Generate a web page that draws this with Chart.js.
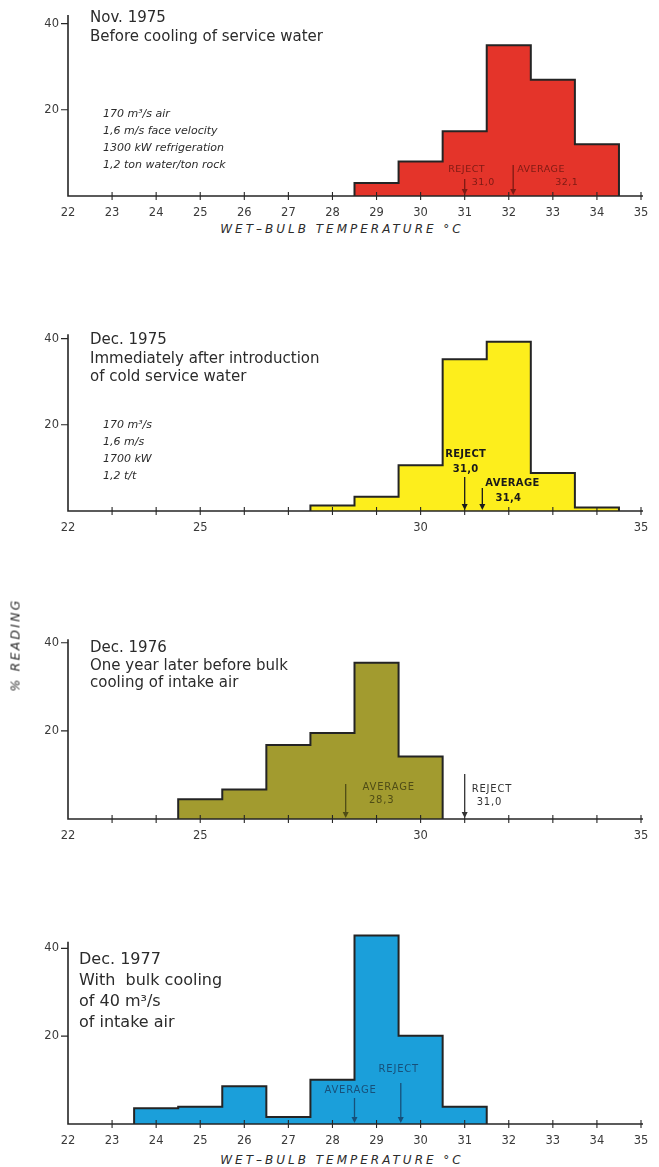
<!DOCTYPE html>
<html>
<head>
<meta charset="utf-8">
<script src="https://cdn.jsdelivr.net/npm/chart.js@4.4.1/dist/chart.umd.min.js"></script>
<style>
  html, body { margin: 0; padding: 0; background: #fff; }
  #page { position: relative; width: 659px; height: 1167px; overflow: hidden;
          font-family: 'DejaVu Sans', sans-serif; color: #2b2b2b; }
  canvas { position: absolute; left: 0; }
  .title { position: absolute; font-size: 15px; white-space: nowrap; }
  .notes { position: absolute; font-size: 11px; font-style: italic; line-height: 17px; white-space: nowrap; }
  .xtitle { position: absolute; left: 342px; font-size: 12px; font-style: italic; letter-spacing: 3px;
            line-height: 14px; white-space: nowrap; transform: translateX(-50%); }
  .ytitle { position: absolute; left: 15px; top: 645px; font-size: 12.5px; font-style: italic; letter-spacing: 2.2px;
            white-space: nowrap; transform: translate(-50%, -50%) rotate(-90deg); }
</style>
</head>
<body>
<div id="page">
  <canvas id="c1" width="659" height="220" style="top:0px"></canvas>
  <canvas id="c2" width="659" height="235" style="top:300px"></canvas>
  <canvas id="c3" width="659" height="243" style="top:600px"></canvas>
  <canvas id="c4" width="659" height="248" style="top:900px"></canvas>

  <div class="title" style="left:90px; top:8px; line-height:19px">Nov. 1975<br>Before cooling of service water</div>
  <div class="notes" style="left:103px; top:104.5px">170 m³/s air<br>1,6 m/s face velocity<br>1300 kW refrigeration<br>1,2 ton water/ton rock</div>
  <div class="xtitle" style="top:222px">WET–BULB TEMPERATURE °C</div>

  <div class="title" style="left:90px; top:330px; line-height:18.5px">Dec. 1975<br>Immediately after introduction<br>of cold service water</div>
  <div class="notes" style="left:103px; top:415.5px">170 m³/s<br>1,6 m/s<br>1700 kW<br>1,2 t/t</div>

  <div class="ytitle">% READING</div>
  <div class="title" style="left:90px; top:639px; line-height:17.5px">Dec. 1976<br>One year later before bulk<br>cooling of intake air</div>

  <div class="title" style="left:79px; top:948px; line-height:21px; font-size:16px">Dec. 1977<br>With&nbsp; bulk cooling<br>of 40 m³/s<br>of intake air</div>
  <div class="xtitle" style="top:1153px">WET–BULB TEMPERATURE °C</div>
</div>

<script>
// wet-bulb temperature axis
const xMin = 22, xMax = 35;
const xTickMarks = [23, 24, 25, 26, 27, 28, 29, 30, 31, 32, 33, 34, 35];
const allTickLabels = [22, 23, 24, 25, 26, 27, 28, 29, 30, 31, 32, 33, 34, 35];
const sparseTickLabels = [22, 25, 30, 35];
const yTickValues = [20, 40];

// % readings per 1 degree bin (bin centre in degC)
const nov1975Bins = [29, 30, 31, 32, 33, 34];
const nov1975Pct = [3, 8, 15, 35, 27, 12];
const dec1975Bins = [28, 29, 30, 31, 32, 33, 34];
const dec1975Pct = [1.3, 3.3, 10.6, 35.2, 39.3, 8.8, 0.8];
const dec1976Bins = [25, 26, 27, 28, 29, 30];
const dec1976Pct = [4.5, 6.7, 16.8, 19.5, 35.5, 14.2];
const dec1977Bins = [24, 25, 26, 27, 28, 29, 30, 31];
const dec1977Pct = [3.6, 3.9, 8.6, 1.6, 10.1, 42.9, 20.1, 3.9];

// average and reject temperatures
const averageTemps = [32.1, 31.4, 28.3, 28.5];
const rejectTemps = [31.0, 31.0, 31.0, 29.55];
const averageLabels = ['32,1', '31,4', '28,3', ''];
const rejectLabels = ['31,0', '31,0', '31,0', ''];

Chart.defaults.font.family = "'DejaVu Sans', sans-serif";
Chart.defaults.color = '#333';

// histogram outline points: left edge of every bin, closed at both ends
function stepPoints(bins, pct) {
  const pts = [{x: bins[0] - 0.5, y: 0}];
  bins.forEach((b, i) => pts.push({x: b - 0.5, y: pct[i]}));
  pts.push({x: bins[bins.length - 1] + 0.5, y: 0});
  return pts;
}

const axesAndMarks = {
  id: 'axesAndMarks',
  afterDatasetsDraw(chart, args, opts) {
    const {ctx, chartArea: a} = chart;
    const x = chart.scales.x, y = chart.scales.y;
    const base = y.getPixelForValue(0);
    ctx.save();
    ctx.strokeStyle = '#262626';
    ctx.lineWidth = 1.6;
    ctx.beginPath();
    ctx.moveTo(a.left, base); ctx.lineTo(a.right + 2, base);
    ctx.moveTo(a.left, base + 0.8); ctx.lineTo(a.left, y.getPixelForValue(opts.axisTop));
    ctx.stroke();
    ctx.lineWidth = 1.1;
    ctx.beginPath();
    xTickMarks.forEach(v => {
      const px = x.getPixelForValue(v);
      ctx.moveTo(px, base - 4); ctx.lineTo(px, base + 4);
    });
    yTickValues.forEach(v => {
      const py = y.getPixelForValue(v);
      ctx.moveTo(a.left - 7, py); ctx.lineTo(a.left, py);
    });
    ctx.stroke();

    opts.marks.forEach(m => {
      const px = x.getPixelForValue(m.value);
      ctx.strokeStyle = m.color; ctx.fillStyle = m.color;
      ctx.lineWidth = 1.3;
      ctx.beginPath();
      ctx.moveTo(px, base - m.len); ctx.lineTo(px, base - 5);
      ctx.stroke();
      ctx.beginPath();
      ctx.moveTo(px - 3, base - 7); ctx.lineTo(px + 3, base - 7); ctx.lineTo(px, base - 1);
      ctx.closePath(); ctx.fill();
      ctx.font = opts.font;
      ctx.letterSpacing = opts.spacing;
      ctx.textBaseline = 'middle';
      m.texts.forEach(t => {
        ctx.textAlign = t.align;
        ctx.fillText(t.text, px + t.dx, base + t.dy);
      });
    });
    ctx.restore();
  }
};

const panels = [
  {id: 'c1', padTop: 15, yMax: 42, axisTop: 42, bins: nov1975Bins, pct: nov1975Pct, fill: '#e4342a',
   ticks: allTickLabels, font: "9.5px 'DejaVu Sans', sans-serif", spacing: '0.5px',
   marks: [
     {value: rejectTemps[0], len: 17, color: '#7d1a14', texts: [
       {text: 'REJECT', dx: 2, dy: -26, align: 'center'}, {text: rejectLabels[0], dx: 7, dy: -13, align: 'left'}]},
     {value: averageTemps[0], len: 31, color: '#7d1a14', texts: [
       {text: 'AVERAGE', dx: 4, dy: -26, align: 'left'}, {text: averageLabels[0], dx: 42, dy: -13, align: 'left'}]}
   ]},
  {id: 'c2', padTop: 30, yMax: 42, axisTop: 41, bins: dec1975Bins, pct: dec1975Pct, fill: '#fdee1c',
   ticks: sparseTickLabels, font: "bold 10px 'DejaVu Sans', sans-serif", spacing: '0.3px',
   marks: [
     {value: rejectTemps[1], len: 34, color: '#1a1a1a', texts: [
       {text: 'REJECT', dx: 1, dy: -57, align: 'center'}, {text: rejectLabels[1], dx: 1, dy: -42, align: 'center'}]},
     {value: averageTemps[1], len: 23, color: '#1a1a1a', texts: [
       {text: 'AVERAGE', dx: 3, dy: -28, align: 'left'}, {text: averageLabels[1], dx: 26, dy: -13, align: 'center'}]}
   ]},
  {id: 'c3', padTop: 34, yMax: 42, axisTop: 40.8, bins: dec1976Bins, pct: dec1976Pct, fill: '#a29b2f',
   ticks: sparseTickLabels, font: "10px 'DejaVu Sans', sans-serif", spacing: '0.8px',
   marks: [
     {value: averageTemps[2], len: 35, color: '#4f4c16', texts: [
       {text: 'AVERAGE', dx: 43, dy: -32, align: 'center'}, {text: averageLabels[2], dx: 36, dy: -19, align: 'center'}]},
     {value: rejectTemps[2], len: 45, color: '#333333', texts: [
       {text: 'REJECT', dx: 7, dy: -30, align: 'left'}, {text: rejectLabels[2], dx: 12, dy: -17, align: 'left'}]}
   ]},
  {id: 'c4', padTop: 22, yMax: 46, axisTop: 41.5, bins: dec1977Bins, pct: dec1977Pct, fill: '#1b9fda',
   ticks: allTickLabels, font: "10px 'DejaVu Sans', sans-serif", spacing: '0.8px',
   marks: [
     {value: averageTemps[3], len: 26, color: '#17507a', texts: [
       {text: 'AVERAGE', dx: -4, dy: -34, align: 'center'}]},
     {value: rejectTemps[3], len: 41, color: '#17507a', texts: [
       {text: 'REJECT', dx: -2, dy: -55, align: 'center'}]}
   ]}
];

panels.forEach(p => {
  new Chart(document.getElementById(p.id), {
    type: 'line',
    data: {
      datasets: [{
        data: stepPoints(p.bins, p.pct),
        stepped: 'before',
        fill: 'origin',
        backgroundColor: p.fill,
        borderColor: '#242424',
        borderWidth: 2,
        borderJoinStyle: 'miter',
        pointRadius: 0,
        tension: 0
      }]
    },
    options: {
      responsive: false,
      animation: false,
      layout: {padding: {left: 0, right: 18, top: p.padTop, bottom: 0}},
      plugins: {
        legend: {display: false},
        tooltip: {enabled: false},
        axesAndMarks: {axisTop: p.axisTop, marks: p.marks, font: p.font, spacing: p.spacing}
      },
      scales: {
        x: {
          type: 'linear', min: xMin, max: xMax,
          grid: {display: false, drawTicks: true, tickLength: 4},
          border: {display: false},
          afterBuildTicks: s => { s.ticks = p.ticks.map(v => ({value: v})); },
          afterFit: s => { s.height = 24; },
          ticks: {autoSkip: false, maxRotation: 0, padding: 6, font: {size: 11.5}, color: '#3a3a3a'}
        },
        y: {
          type: 'linear', min: 0, max: p.yMax,
          grid: {display: false, drawTicks: true, tickLength: 6},
          border: {display: false},
          afterBuildTicks: s => { s.ticks = yTickValues.map(v => ({value: v})); },
          afterFit: s => { s.width = 68; },
          ticks: {padding: 3, font: {size: 11.5}, color: '#3a3a3a'}
        }
      }
    },
    plugins: [axesAndMarks]
  });
});
</script>
</body>
</html>
